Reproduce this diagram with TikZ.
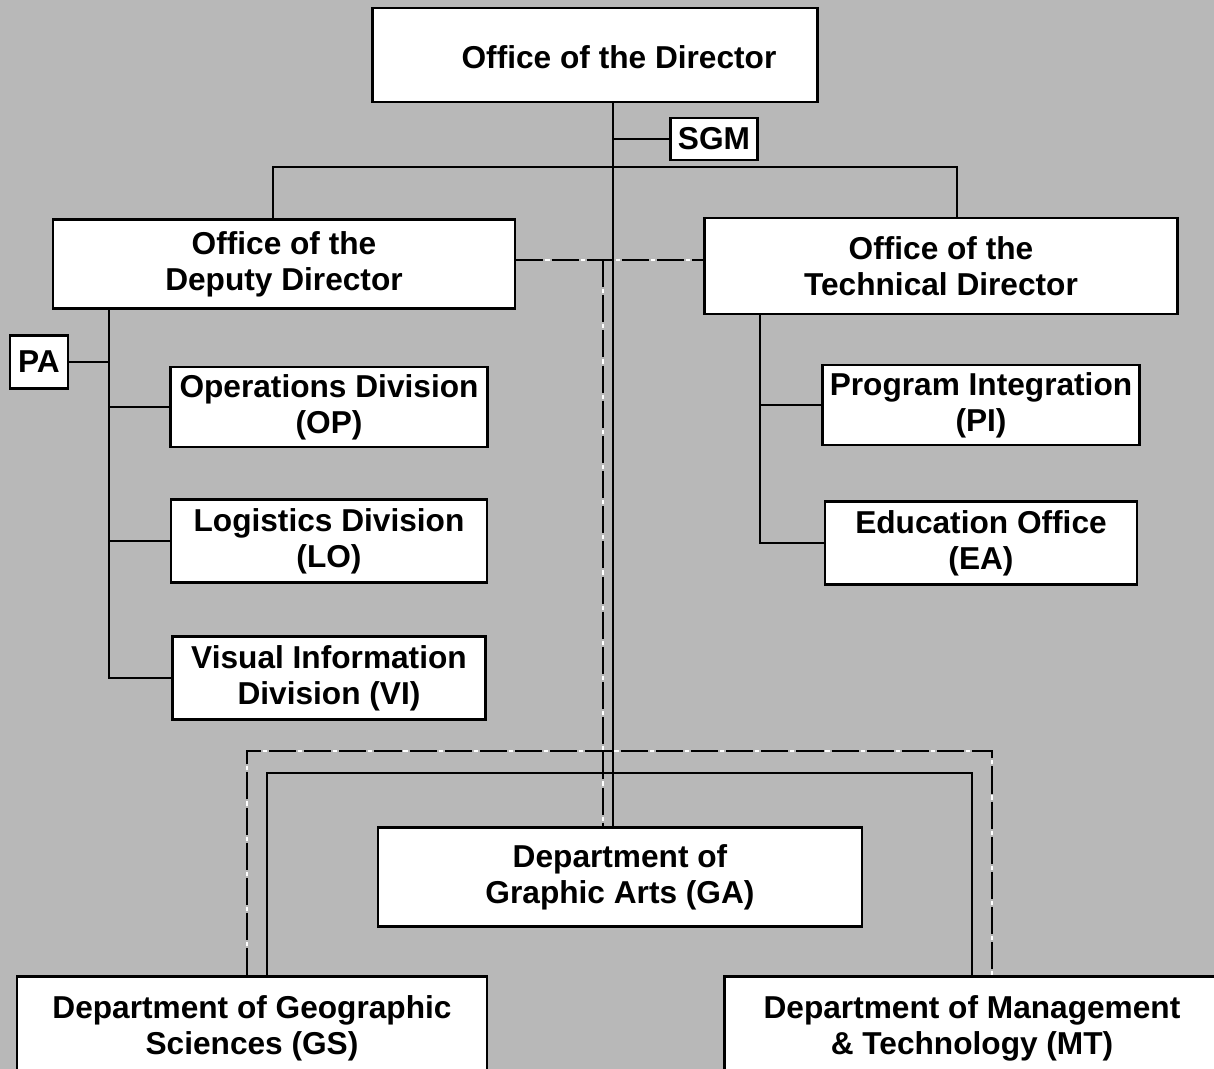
\documentclass[tikz,border=0pt]{standalone}
\usepackage{fontspec}
\setmainfont{Liberation Sans}
\usetikzlibrary{positioning,calc}
\definecolor{screen}{gray}{0.72}

\tikzset{
  orgbox/.style={draw,fill=white,line width=0.7pt,inner sep=0pt,align=center},
  link/.style={line width=0.5pt},
  staff/.style={line width=0.8pt,dash pattern=on 7.7pt off 2.3pt,
    postaction={draw=white,line width=0.7pt,dash pattern=on 1.2pt off 8.8pt,dash phase=1.75pt}}
}

\begin{document}
\begin{tikzpicture}[x=0.01cm,y=-0.01cm,font=\bfseries\fontsize{9}{10.2}\selectfont]
% Page area with the screened background
\fill[screen] (0,0) rectangle (1214,1069);
\clip (0,0) rectangle (1214,1069);
\useasboundingbox (0,0) rectangle (1214,1069);

% Top of the chart
\node[orgbox,minimum width=4.45cm,minimum height=0.94cm,
  label={[xshift=0.24cm,yshift=-0.02cm]center:Office of the Director}] (director) at (595,55) {};
\node[orgbox,minimum width=0.87cm,minimum height=0.42cm] (SGM) at (714,139) {SGM};
\node[orgbox,minimum width=4.62cm,minimum height=0.89cm] (deputy) at (284,264) {Office of the\\Deputy Director};
\node[orgbox,minimum width=4.73cm,minimum height=0.96cm] (tech) at (941,266) {Office of the\\Technical Director};

% Divisions under the deputy
\node[orgbox,minimum width=0.58cm,minimum height=0.53cm] (PA) at (39,362) {PA};
\node[orgbox,minimum width=3.17cm,minimum height=0.80cm] (OP) at (329,407) {Operations Division\\(OP)};
\node[orgbox,minimum width=3.16cm,minimum height=0.83cm] (LO) at (329,541) {Logistics Division\\(LO)};
\node[orgbox,minimum width=3.13cm,minimum height=0.83cm] (VI) at (329,678) {Visual Information\\Division (VI)};

% Offices under the technical director
\node[orgbox,minimum width=3.17cm,minimum height=0.80cm] (PI) at (981,405) {Program Integration\\(PI)};
\node[orgbox,minimum width=3.12cm,minimum height=0.83cm] (EA) at (981,543) {Education Office\\(EA)};

% Departments
\node[orgbox,minimum width=4.84cm,minimum height=0.99cm] (GA) at (620,877) {Department of\\Graphic Arts (GA)};
\node[orgbox,minimum width=4.70cm,minimum height=1.03cm] (GS) at (252,1028) {Department of Geographic\\Sciences (GS)};
\node[orgbox,minimum width=4.95cm,minimum height=1.03cm] (MT) at (972,1028) {Department of Management\\\& Technology (MT)};

% Spines and bus points
\coordinate (mspine) at (613,0);
\coordinate (dspine) at (109,0);
\coordinate (tspine) at (760,0);
\coordinate (dtop) at (273,167);
\coordinate (ttop) at (957,167);
\coordinate (gsup) at (267,773);
\coordinate (mtup) at (972,773);
\coordinate (gadash) at (603,260);
\coordinate (gsdash) at (247,751);
\coordinate (mtdash) at (992,751);

% Solid lines of command
\draw[link] (director.south -| mspine) -- (GA.north -| mspine);
\draw[link] (SGM.west) -- (SGM.west -| mspine);
\draw[link] (deputy.north -| dtop) -- (dtop) -- (ttop) -- (tech.north -| ttop);
\draw[link] (deputy.south -| dspine) |- (VI.west);
\draw[link] (PA.east) -- (PA.east -| dspine);
\draw[link] (OP.west) -- (OP.west -| dspine);
\draw[link] (LO.west) -- (LO.west -| dspine);
\draw[link] (tech.south -| tspine) |- (EA.west);
\draw[link] (PI.west) -- (PI.west -| tspine);
\draw[link] (GS.north -| gsup) -- (gsup) -- (mtup) -- (MT.north -| mtup);

% Dashed staff lines
\draw[staff] (deputy.east |- gadash) -- (tech.west |- gadash);
\draw[staff] (gadash) -- (GA.north -| gadash);
\draw[staff] (GS.north -| gsdash) -- (gsdash) -- (mtdash) -- (MT.north -| mtdash);
\end{tikzpicture}
\end{document}
